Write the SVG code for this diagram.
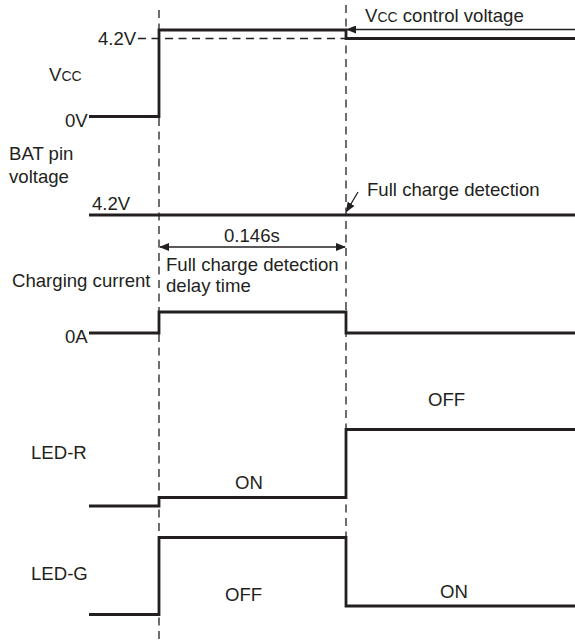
<svg xmlns="http://www.w3.org/2000/svg" width="575" height="640" viewBox="0 0 575 640">
<style>
text{font-family:"Liberation Sans",Arial,Helvetica,sans-serif;font-size:18.6px;fill:#231f20}
.sub{font-size:14px}
.sig{fill:none;stroke:#231f20;stroke-width:2.8;stroke-linejoin:miter;stroke-linecap:butt}
.dash{fill:none;stroke:#231f20;stroke-width:1.3;stroke-dasharray:8 5.5}
.thin{fill:none;stroke:#231f20;stroke-width:1.3}
</style>
<defs>
<marker id="ah" markerUnits="userSpaceOnUse" markerWidth="10" markerHeight="8" refX="9" refY="4" orient="auto-start-reverse">
<path d="M0,0 L10,4 L0,8 z" fill="#231f20"/>
</marker>
</defs>
<rect width="575" height="640" fill="#fff"/>
<g id="guides">
<line class="dash" x1="159" y1="10" x2="159" y2="640"/>
<line class="dash" x1="346" y1="5" x2="346" y2="537"/>
<line class="dash" x1="138" y1="38.5" x2="346" y2="38.5"/>
</g>
<g id="vcc">
<text x="49" y="81">V<tspan class="sub">CC</tspan></text>
<text x="98" y="45">4.2V</text>
<text x="65" y="126.5">0V</text>
<polyline class="sig" points="89,116.5 159,116.5 159,30 346,30 346,38.5 575,38.5"/>
</g>
<g id="bat">
<text x="9" y="160">BAT pin</text>
<text x="9" y="182.5">voltage</text>
<text x="92" y="210">4.2V</text>
<polyline class="sig" points="89,215 575,215"/>
</g>
<g id="charging">
<text x="12" y="287">Charging current</text>
<text x="65" y="342.5">0A</text>
<polyline class="sig" points="89,333 159,333 159,312 346,312 346,333 575,333"/>
</g>
<g id="ledr">
<text x="31" y="458.5">LED-R</text>
<text x="428" y="406">OFF</text>
<text x="235" y="488.5">ON</text>
<polyline class="sig" points="89,506 159,506 159,497.5 346,497.5 346,429.5 575,429.5"/>
</g>
<g id="ledg">
<text x="31" y="579.5">LED-G</text>
<text x="225" y="600.5">OFF</text>
<text x="440" y="597.5">ON</text>
<polyline class="sig" points="89,614.5 159,614.5 159,537.5 346,537.5 346,606 575,606"/>
</g>
<g id="annotations">
<text x="365" y="21.5">V<tspan class="sub">CC</tspan> control voltage</text>
<text x="367" y="196">Full charge detection</text>
<text x="224" y="242">0.146s</text>
<text x="166" y="270.5">Full charge detection</text>
<text x="166" y="291.5">delay time</text>
</g>
<g id="connectors">
<line class="thin" x1="575" y1="29.5" x2="347" y2="29.5" marker-end="url(#ah)" stroke="#444"/>
<line class="thin" x1="358" y1="192" x2="346.5" y2="211.5" marker-end="url(#ah)"/>
<line class="thin" x1="160" y1="247" x2="345" y2="247" marker-start="url(#ah)" marker-end="url(#ah)"/>
</g>
</svg>
